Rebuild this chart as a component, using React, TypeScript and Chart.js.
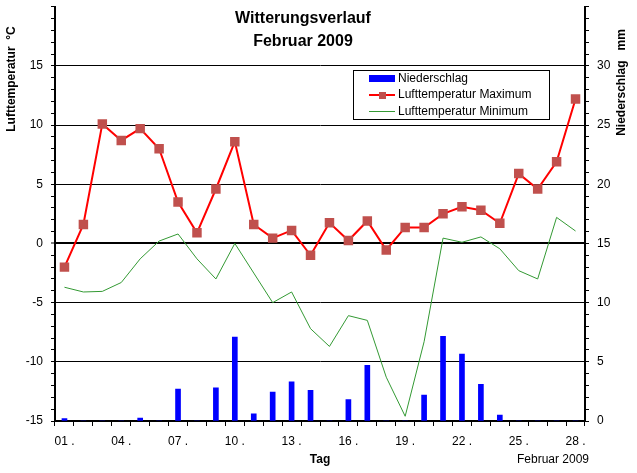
import { useEffect, useRef } from 'react';
import { Chart, registerables } from 'chart.js';

Chart.register(...registerables);

const days = ['01', '02', '03', '04', '05', '06', '07', '08', '09', '10', '11', '12', '13', '14', '15', '16', '17', '18', '19', '20', '21', '22', '23', '24', '25', '26', '27', '28'];
const precipitation = [0.2, 0, 0, 0, 0.25, 0, 2.7, 0, 2.8, 7.1, 0.6, 2.45, 3.3, 2.6, 0, 1.8, 4.7, 0, 0, 2.2, 7.15, 5.65, 3.1, 0.5, 0, 0, 0, 0];
const tempMax = [-2.0, 1.6, 10.1, 8.7, 9.7, 8.0, 3.5, 0.9, 4.6, 8.6, 1.6, 0.45, 1.1, -1.0, 1.75, 0.25, 1.9, -0.55, 1.35, 1.35, 2.5, 3.1, 2.8, 1.7, 5.9, 4.6, 6.9, 12.2];
const tempMin = [-3.7, -4.1, -4.05, -3.3, -1.3, 0.2, 0.8, -1.3, -3.0, 0.0, -2.5, -5.0, -4.1, -7.2, -8.7, -6.1, -6.5, -11.3, -14.6, -8.3, 0.45, 0.1, 0.55, -0.45, -2.3, -3.0, 2.2, 1.05];
const seriesLabels = ['Niederschlag', 'Lufttemperatur Maximum', 'Lufttemperatur Minimum'];
const titleLines = ['Witterungsverlauf', 'Februar 2009'];
const yTitle = 'Lufttemperatur  °C';
const y2Title = 'Niederschlag   mm';
const xTitle = 'Tag';
const xNote = 'Februar 2009';

const FONT = '"Liberation Sans", Arial, sans-serif';

const textPlugin = {
  id: 'texts',
  afterDraw(chart: any) {
    const ctx = chart.ctx as CanvasRenderingContext2D;
    const area = chart.chartArea;
    ctx.save();
    ctx.fillStyle = '#000';
    ctx.textBaseline = 'middle';
    ctx.textAlign = 'center';
    ctx.font = `bold 16px ${FONT}`;
    ctx.fillText(titleLines[0], 303, 19);
    ctx.fillText(titleLines[1], 303, 42);

    ctx.font = `bold 12px ${FONT}`;
    ctx.save();
    ctx.translate(12, 79);
    ctx.rotate(-Math.PI / 2);
    ctx.fillText(yTitle, 0, 0);
    ctx.restore();
    ctx.save();
    ctx.translate(622, 82.5);
    ctx.rotate(-Math.PI / 2);
    ctx.fillText(y2Title, 0, 0);
    ctx.restore();

    ctx.fillText(xTitle, (area.left + area.right) / 2, 460);
    ctx.font = `12px ${FONT}`;
    ctx.textAlign = 'right';
    ctx.fillText(xNote, 589, 460);

    // legend
    const ds = chart.data.datasets;
    ctx.fillStyle = '#fff';
    ctx.fillRect(353, 70, 196, 49);
    ctx.strokeStyle = '#000';
    ctx.lineWidth = 1;
    ctx.strokeRect(353.5, 70.5, 196, 49);
    ctx.fillStyle = ds[2].backgroundColor;
    ctx.fillRect(369, 75, 26, 7);
    ctx.strokeStyle = ds[0].borderColor;
    ctx.lineWidth = 2;
    ctx.beginPath();
    ctx.moveTo(369, 95);
    ctx.lineTo(395, 95);
    ctx.stroke();
    ctx.fillStyle = ds[0].pointBackgroundColor;
    ctx.fillRect(379, 92, 7, 7);
    ctx.strokeStyle = ds[1].borderColor;
    ctx.lineWidth = 1;
    ctx.beginPath();
    ctx.moveTo(369, 111.5);
    ctx.lineTo(395, 111.5);
    ctx.stroke();
    ctx.fillStyle = '#000';
    ctx.textAlign = 'left';
    ctx.font = `12px ${FONT}`;
    ctx.fillText(ds[2].label, 398, 78.5);
    ctx.fillText(ds[0].label, 398, 95);
    ctx.fillText(ds[1].label, 398, 112);
    ctx.restore();
  },
};

export default function App() {
  const ref = useRef<HTMLCanvasElement>(null);
  useEffect(() => {
    if (!ref.current) return;
    Chart.defaults.font.family = FONT;
    Chart.defaults.font.size = 12;
    Chart.defaults.color = '#000';
    const chart = new Chart(ref.current, {
      type: 'bar',
      data: {
        labels: days,
        datasets: [
          {
            type: 'line',
            label: seriesLabels[1],
            data: tempMax,
            yAxisID: 'y',
            borderColor: '#FF0000',
            borderWidth: 2,
            pointStyle: 'rect',
            pointRadius: 6.7,
            pointBackgroundColor: '#C0504D',
            pointBorderColor: '#C0504D',
            pointBorderWidth: 0,
            tension: 0,
            order: 1,
          } as any,
          {
            type: 'line',
            label: seriesLabels[2],
            data: tempMin,
            yAxisID: 'y',
            borderColor: '#339933',
            borderWidth: 1,
            pointRadius: 0,
            tension: 0,
            order: 2,
          } as any,
          {
            type: 'bar',
            label: seriesLabels[0],
            data: precipitation,
            yAxisID: 'y2',
            backgroundColor: '#0000FF',
            borderWidth: 0,
            barThickness: 5,
            order: 3,
          } as any,
        ],
      },
      options: {
        responsive: false,
        animation: false,
        layout: { padding: { top: 6, left: 0, right: 0, bottom: 0 } },
        plugins: {
          legend: { display: false },
          tooltip: { enabled: false },
          title: { display: false },
        },
        scales: {
          x: {
            type: 'category',
            offset: true,
            grid: { display: true, drawOnChartArea: false, offset: true, tickLength: 5, tickColor: '#000', tickWidth: 1 },
            border: { display: true, color: '#000', width: 2 },
            ticks: {
              autoSkip: false,
              maxRotation: 0,
              minRotation: 0,
              padding: 8,
              color: '#000',
              font: { size: 12 },
              callback: (_v: any, i: number) => (i % 3 === 0 ? days[i] + ' .' : ''),
            },
            afterFit: (s: any) => { s.height = 52; s.paddingLeft = 0; s.paddingRight = 0; },
          },
          y: {
            position: 'left',
            min: -15,
            max: 20,
            ticks: {
              stepSize: 1,
              autoSkip: false,
              padding: 8,
              color: '#000',
              callback: (v: any) => (v % 5 === 0 && v !== 20 ? String(v) : ''),
            },
            grid: {
              color: (c: any) => {
                const v = c.tick ? c.tick.value : NaN;
                return v % 5 === 0 && v !== 20 && v !== -15 ? '#000' : 'rgba(0,0,0,0)';
              },
              lineWidth: (c: any) => (c.tick && c.tick.value === 0 ? 2 : 1),
              tickColor: '#000',
              tickWidth: 1,
              tickLength: 4,
            },
            border: { color: '#000', width: 2 },
            afterFit: (s: any) => { s.width = 55; s.paddingTop = 0; s.paddingBottom = 0; },
          },
          y2: {
            position: 'right',
            min: 0,
            max: 35,
            ticks: {
              stepSize: 1,
              autoSkip: false,
              padding: 8,
              color: '#000',
              callback: (v: any) => (v % 5 === 0 && v !== 35 ? String(v) : ''),
            },
            grid: { drawOnChartArea: false, tickColor: '#000', tickWidth: 1, tickLength: 4 },
            border: { color: '#000', width: 2 },
            afterFit: (s: any) => { s.width = 52; s.paddingTop = 0; s.paddingBottom = 0; },
          },
        },
      } as any,
      plugins: [textPlugin],
    });
    return () => chart.destroy();
  }, []);
  return (
    <div style={{ position: 'fixed', left: 0, top: 0, width: 637, height: 473, background: '#fff' }}>
      <canvas ref={ref} width={637} height={473} style={{ display: 'block' }} />
    </div>
  );
}
